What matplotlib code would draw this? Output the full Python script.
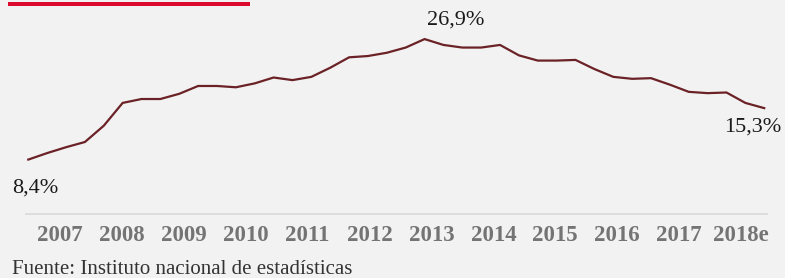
import matplotlib
matplotlib.use("Agg")
import matplotlib.pyplot as plt
from matplotlib.patches import Rectangle
import numpy as np

# tasa de paro (%), serie tal como se dibuja
rate = [8.4, 9.4, 10.3, 11.1, 13.6, 17.1, 17.7, 17.7, 18.5, 19.7,
        19.7, 19.5, 20.1, 21.0, 20.6, 21.1, 22.5, 24.1, 24.3, 24.8,
        25.6, 26.9, 26.0, 25.6, 25.6, 26.0, 24.4, 23.6, 23.6, 23.7,
        22.3, 21.1, 20.8, 20.9, 19.9, 18.8, 18.6, 18.7, 17.1, 16.3]
years = ["2007", "2008", "2009", "2010", "2011", "2012",
         "2013", "2014", "2015", "2016", "2017", "2018e"]
labels = {0: "8,4%", 21: "26,9%", 39: "15,3%"}
source = "Fuente: Instituto nacional de estadísticas"

bg = "#f2f2f2"
line_color = "#6b2226"
W, H = 785, 278

plt.rcParams["font.family"] = ["Liberation Serif", "DejaVu Serif"]

fig = plt.figure(figsize=(W / 100, H / 100), dpi=100, facecolor=bg)

# axes: baseline from px 26 to 766.7, top at px 0, bottom at px 214.3
ax = fig.add_axes([26 / W, (H - 214.3) / H, 740.7 / W, 214.3 / H])
ax.set_facecolor(bg)

x = np.arange(len(rate))
ax.plot(x, rate, color=line_color, lw=1.6, solid_joinstyle="miter")

# pixel -> index mapping (index 0 at px 28.3, step 18.87 px)
step = 18.87
ax.set_xlim((26 - 28.3) / step, (766.7 - 28.3) / step)
ax.set_ylim(0, 32.9)

tick_px = np.linspace(60, 741, len(years))
ax.set_xticks((tick_px - 28.3) / step)
ax.set_xticklabels(years, fontsize=16.5, fontweight="bold", color="#747474")
ax.tick_params(axis="x", length=0, pad=8)
ax.set_yticks([])

for s in ["top", "left", "right"]:
    ax.spines[s].set_visible(False)
ax.spines["bottom"].set_color("#d9d9d9")
ax.spines["bottom"].set_linewidth(1.2)

# etiquetas de valores
offsets = {0: (-16.6, -28, "left"), 21: (2.7, 19.5, "left"), 39: (17.5, -18.7, "right")}
for i, txt in labels.items():
    dx, dy, ha = offsets[i]
    ax.annotate(txt, (x[i], rate[i]), xytext=(dx, dy), textcoords="offset pixels",
                ha=ha, va="center", fontsize=16, color="#1a1a1a",
                annotation_clip=False)

# barra roja superior
fig.patches.append(Rectangle((8.3 / W, 1 - 5.7 / H), (250 - 8.3) / W, 4 / H,
                             transform=fig.transFigure, color="#dc0a2d", lw=0))

fig.text(11.7 / W, (H - 274) / H, source, fontsize=15, color="#333333",
         ha="left", va="baseline")

fig.savefig("out.png", dpi=100, facecolor=bg)
